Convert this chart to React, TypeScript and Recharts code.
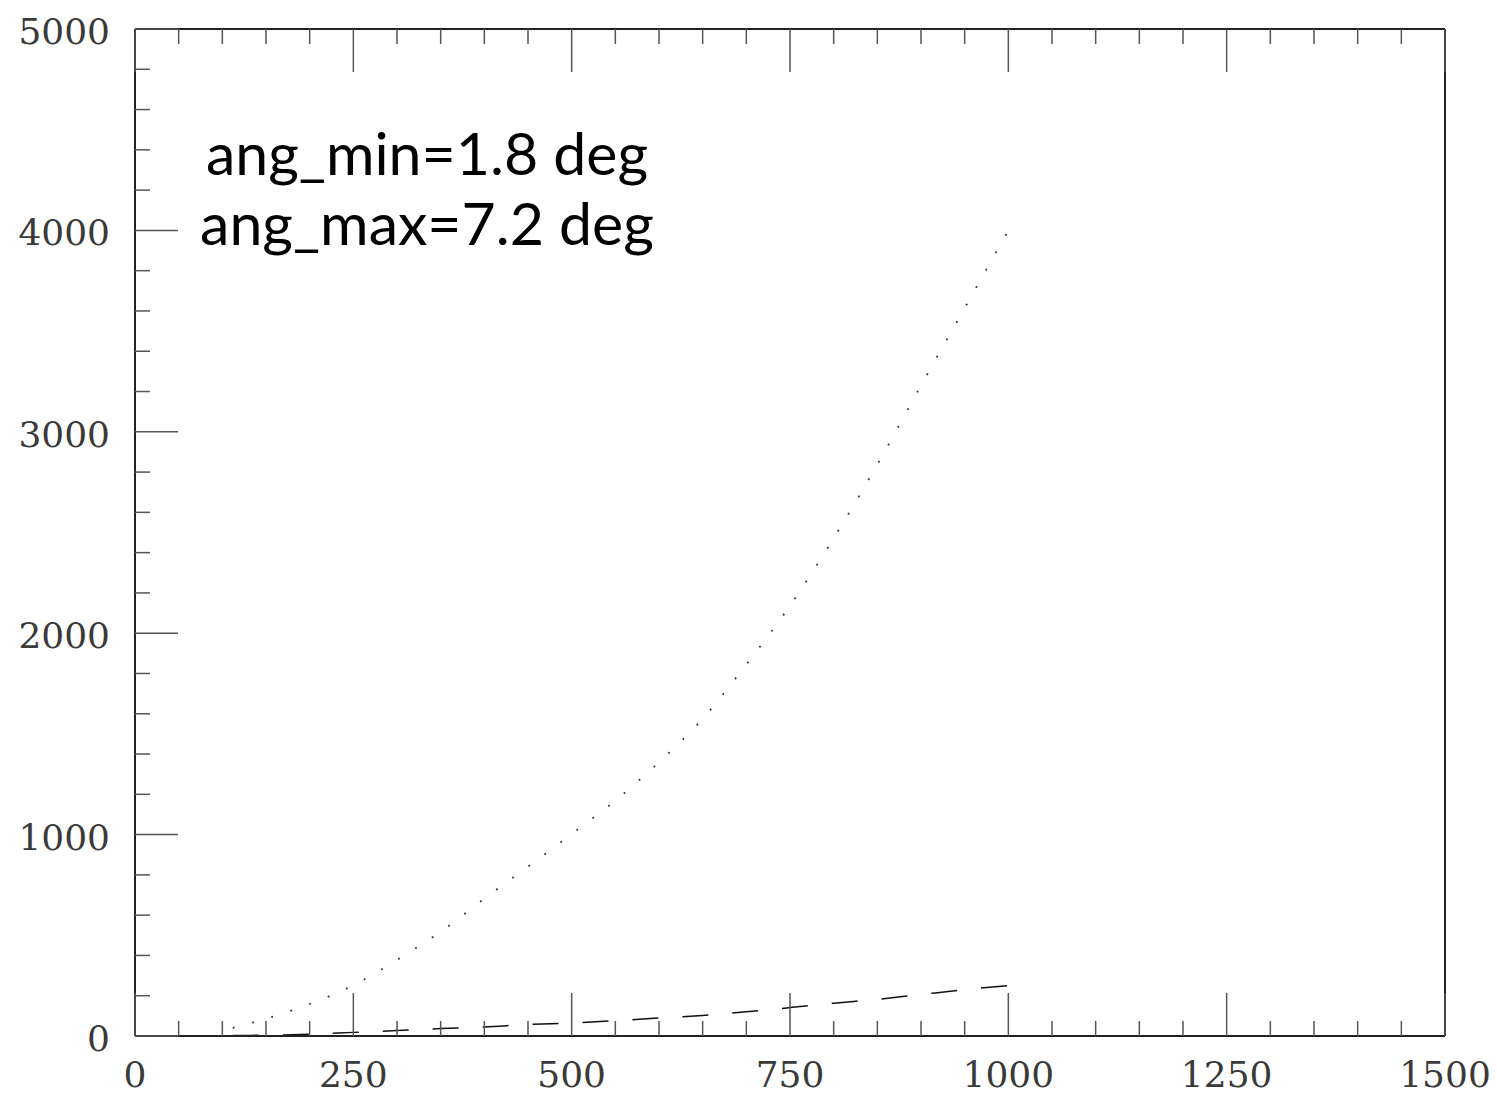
import { LineChart, Line, XAxis, YAxis } from 'recharts';

const xValues = [112, 150, 200, 250, 300, 350, 400, 450, 500, 550, 600, 650, 700, 750, 800, 850, 900, 950, 1000];
const dottedValues = [40, 86, 159, 252, 378, 518, 682, 841, 1003, 1169, 1360, 1575, 1845, 2137, 2471, 2838, 3230, 3615, 4000];
const dashedValues = [2, 4, 9, 18, 27, 37, 45, 57, 65, 76, 89, 102, 120, 141, 163, 182, 206, 230, 250];

const xTicks = Array.from({ length: 31 }, (_, i) => i * 50);
const yTicks = Array.from({ length: 26 }, (_, i) => i * 200);
const X_MAJOR = 250;
const Y_MAJOR = 1000;

const notes = ['ang_min=1.8 deg', 'ang_max=7.2 deg'];

const data = xValues.map((x, i) => ({ x, dotted: dottedValues[i], dashed: dashedValues[i] }));

const INK = '#222';
const TICK = '#555';
const LABEL_FONT = '"DejaVu Serif", serif';
const MAJOR_LEN = 43;
const MINOR_LEN = 15;

function BottomTick({ x, y, payload }: any) {
  const major = payload.value % X_MAJOR === 0;
  return (
    <g>
      <line x1={x} y1={y} x2={x} y2={y - (major ? MAJOR_LEN : MINOR_LEN)} stroke={TICK} strokeWidth={1.5} />
      {major && (
        <text x={x} y={y + 51} textAnchor="middle" fontFamily={LABEL_FONT} fontSize={36} fill="#3a3a3a">
          {payload.value}
        </text>
      )}
    </g>
  );
}

function TopTick({ x, y, payload }: any) {
  const major = payload.value % X_MAJOR === 0;
  return <line x1={x} y1={y} x2={x} y2={y + (major ? MAJOR_LEN : MINOR_LEN)} stroke={TICK} strokeWidth={1.5} />;
}

function LeftTick({ x, y, payload }: any) {
  const major = payload.value % Y_MAJOR === 0;
  return (
    <g>
      <line x1={x} y1={y} x2={x + (major ? MAJOR_LEN : MINOR_LEN)} y2={y} stroke={TICK} strokeWidth={1.5} />
      {major && (
        <text x={x - 25} y={y + 15} textAnchor="end" fontFamily={LABEL_FONT} fontSize={36} fill="#3a3a3a">
          {payload.value}
        </text>
      )}
    </g>
  );
}

function RightTick({ x, y, payload }: any) {
  const major = payload.value % Y_MAJOR === 0;
  return <line x1={x} y1={y} x2={x - (major ? MAJOR_LEN : MINOR_LEN)} y2={y} stroke={TICK} strokeWidth={1.5} />;
}

export default function App() {
  const axisLine = { stroke: INK, strokeWidth: 2 };
  return (
    <div style={{ position: 'absolute', left: 0, top: 0, width: 1497, height: 1094, background: '#fff' }}>
      <LineChart width={1497} height={1094} data={data} margin={{ top: 28, right: 51, bottom: 0, left: 0 }}>
        <XAxis
          xAxisId="bottom"
          dataKey="x"
          type="number"
          domain={[0, 1500]}
          ticks={xTicks}
          interval={0}
          height={58}
          tickSize={0}
          tickMargin={0}
          tickLine={false}
          axisLine={axisLine}
          tick={<BottomTick />}
        />
        <XAxis
          xAxisId="top"
          orientation="top"
          dataKey="x"
          type="number"
          domain={[0, 1500]}
          ticks={xTicks}
          interval={0}
          height={1}
          tickSize={0}
          tickMargin={0}
          tickLine={false}
          axisLine={axisLine}
          tick={<TopTick />}
        />
        <YAxis
          yAxisId="left"
          type="number"
          domain={[0, 5000]}
          ticks={yTicks}
          interval={0}
          width={135}
          tickSize={0}
          tickMargin={0}
          tickLine={false}
          axisLine={axisLine}
          tick={<LeftTick />}
        />
        <YAxis
          yAxisId="right"
          orientation="right"
          type="number"
          domain={[0, 5000]}
          ticks={yTicks}
          interval={0}
          width={1}
          tickSize={0}
          tickMargin={0}
          tickLine={false}
          axisLine={axisLine}
          tick={<RightTick />}
        />
        <Line
          xAxisId="bottom"
          yAxisId="left"
          type="monotone"
          dataKey="dotted"
          stroke="#333"
          strokeWidth={1.8}
          strokeDasharray="1.8 18.2"
          dot={false}
          isAnimationActive={false}
        />
        <Line
          xAxisId="bottom"
          yAxisId="left"
          type="monotone"
          dataKey="dashed"
          stroke="#111"
          strokeWidth={1.5}
          strokeDasharray="26 24"
          dot={false}
          isAnimationActive={false}
        />
      </LineChart>
      <svg width={1497} height={1094} style={{ position: 'absolute', left: 0, top: 0, pointerEvents: 'none' }}>
        {notes.map((t, i) => (
          <text key={t} x={427} y={175 + i * 70} textAnchor="middle" fontFamily="Lato, sans-serif" fontSize={59} fill="#000">
            {t}
          </text>
        ))}
      </svg>
    </div>
  );
}
